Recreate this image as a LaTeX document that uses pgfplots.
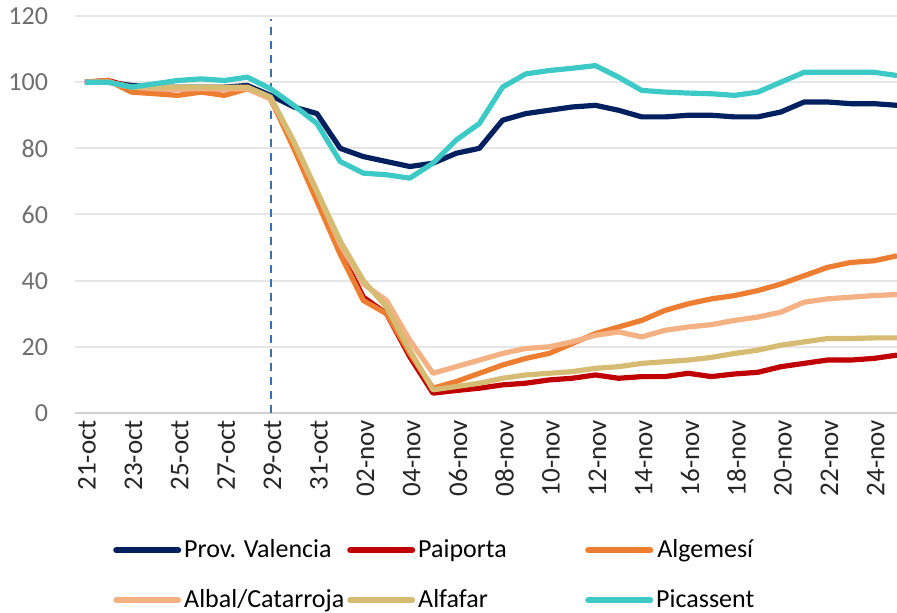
\documentclass[border=0pt]{standalone}
\usepackage{pgfplots}
\usepackage{pgfplotstable}
\pgfplotsset{compat=1.18}
\usepackage{fontspec}
\setmainfont{Carlito}
\definecolor{provc}{HTML}{002060}
\definecolor{paic}{HTML}{C00000}
\definecolor{algc}{HTML}{ED7D31}
\definecolor{albc}{HTML}{F4B183}
\definecolor{alfc}{HTML}{D5BC72}
\definecolor{picc}{HTML}{3DCAC6}
\definecolor{gridc}{HTML}{E6E6E6}
\definecolor{axc}{HTML}{D0D0D0}
\definecolor{dashc}{HTML}{2E75B6}
\definecolor{ytc}{HTML}{6E6E6E}
\definecolor{xtc}{HTML}{262626}

\pgfplotstableread{
d prov pai alg alb alf pic
0 100 100 100 100 100 100
1 100 100.5 100.5 100 100 100
2 99 98.5 97 98.5 98.5 98.5
3 98.5 98 96.5 98 98.5 99.5
4 98.5 98 96 98 98.5 100.5
5 98.5 98 97 98 98.5 101
6 98.5 98 96 98 98.5 100.5
7 99 98.5 98 98 98.5 101.5
8 96 95 95 95 95.5 98
9 92.5 81 80 82 82 93
10 90.5 65 64 67 67 87.5
11 80 49 48 51 52 76
12 77.5 35 34 39 40 72.5
13 76 30 30 34 32 72
14 74.5 17 18 22 19 71
15 75.5 6 7.5 12 7 75.5
16 78.5 6.8 9.5 14 8 82.5
17 80 7.5 12 16 9 87.5
18 88.5 8.5 14.5 18 10.5 98.5
19 90.5 9 16.5 19.5 11.5 102.5
20 91.5 10 18 20 12 103.5
21 92.5 10.5 21 21.5 12.5 104.2
22 93 11.5 24 23.5 13.5 105
23 91.5 10.5 26 24.5 14 101.5
24 89.5 11 28 23 15 97.5
25 89.5 11 31 25 15.5 97
26 90 12 33 26 16 96.7
27 90 11 34.5 26.7 16.8 96.5
28 89.5 11.8 35.5 28 18 96
29 89.5 12.3 37 29 19 97
30 91 14 39 30.5 20.5 100
31 94 15 41.5 33.5 21.5 103
32 94 16 44 34.5 22.5 103
33 93.5 16 45.5 35 22.5 103
34 93.5 16.5 46 35.5 22.7 103
35 93 17.5 47.5 35.8 22.7 102
}\data

\begin{document}
\begin{tikzpicture}
\begin{axis}[
  scale only axis,
  width=411pt, height=198.5pt,
  xmin=-0.43, xmax=35, ymin=0, ymax=120,
  ytick={0,20,...,120},
  xtick={0,2,...,34},
  xticklabels={21-oct,23-oct,25-oct,27-oct,29-oct,31-oct,02-nov,04-nov,06-nov,08-nov,10-nov,12-nov,14-nov,16-nov,18-nov,20-nov,22-nov,24-nov},
  /pgf/number format/assume math mode=true,
  separate axis lines,
  axis x line*=bottom, axis y line*=left,
  y axis line style={draw=none},
  x axis line style={draw=axc, line width=1.3pt, -},
  major tick length=0pt,
  ymajorgrids,
  grid style={gridc, line width=1pt},
  yticklabel style={font=\fontsize{13}{15}\selectfont, text=ytc, xshift=-10pt},
  xticklabel style={font=\fontsize{13.5}{15}\selectfont, text=xtc, rotate=90, anchor=east, yshift=-1pt},
  legend columns=3,
  legend style={draw=none, fill=none, at={(0.046,-0.318)}, anchor=north west,
    font=\fontsize{13}{15}\selectfont, inner sep=0pt, row sep=14.5pt,
    nodes={inner xsep=1.5pt, inner ysep=0pt},
    /tikz/every even column/.append style={column sep=0pt}},
  legend image code/.code={\draw[#1, line width=3pt, line cap=round] (0pt,0pt) -- (31pt,0pt);},
  every axis plot/.append style={line width=2.6pt, line join=round, mark=none},
]
\addplot[dashc, dashed, line width=1pt, dash pattern=on 4pt off 3pt, forget plot] coordinates {(8,0) (8,119)};
\addplot[provc] table[x=d, y=prov] {\data};
\addlegendentry{\makebox[80pt][l]{Prov. Valencia}}
\addplot[paic] table[x=d, y=pai] {\data};
\addlegendentry{\makebox[82pt][l]{Paiporta}}
\addplot[algc] table[x=d, y=alg] {\data};
\addlegendentry{Algemesí}
\addplot[albc] table[x=d, y=alb] {\data};
\addlegendentry{\makebox[80pt][l]{Albal/Catarroja}}
\addplot[alfc] table[x=d, y=alf] {\data};
\addlegendentry{\makebox[82pt][l]{Alfafar}}
\addplot[picc] table[x=d, y=pic] {\data};
\addlegendentry{Picassent}
\end{axis}
\pgfresetboundingbox
\path ([xshift=-37.5pt,yshift=-100pt]current axis.south west) rectangle ([yshift=8pt]current axis.north east);
\end{tikzpicture}
\end{document}
